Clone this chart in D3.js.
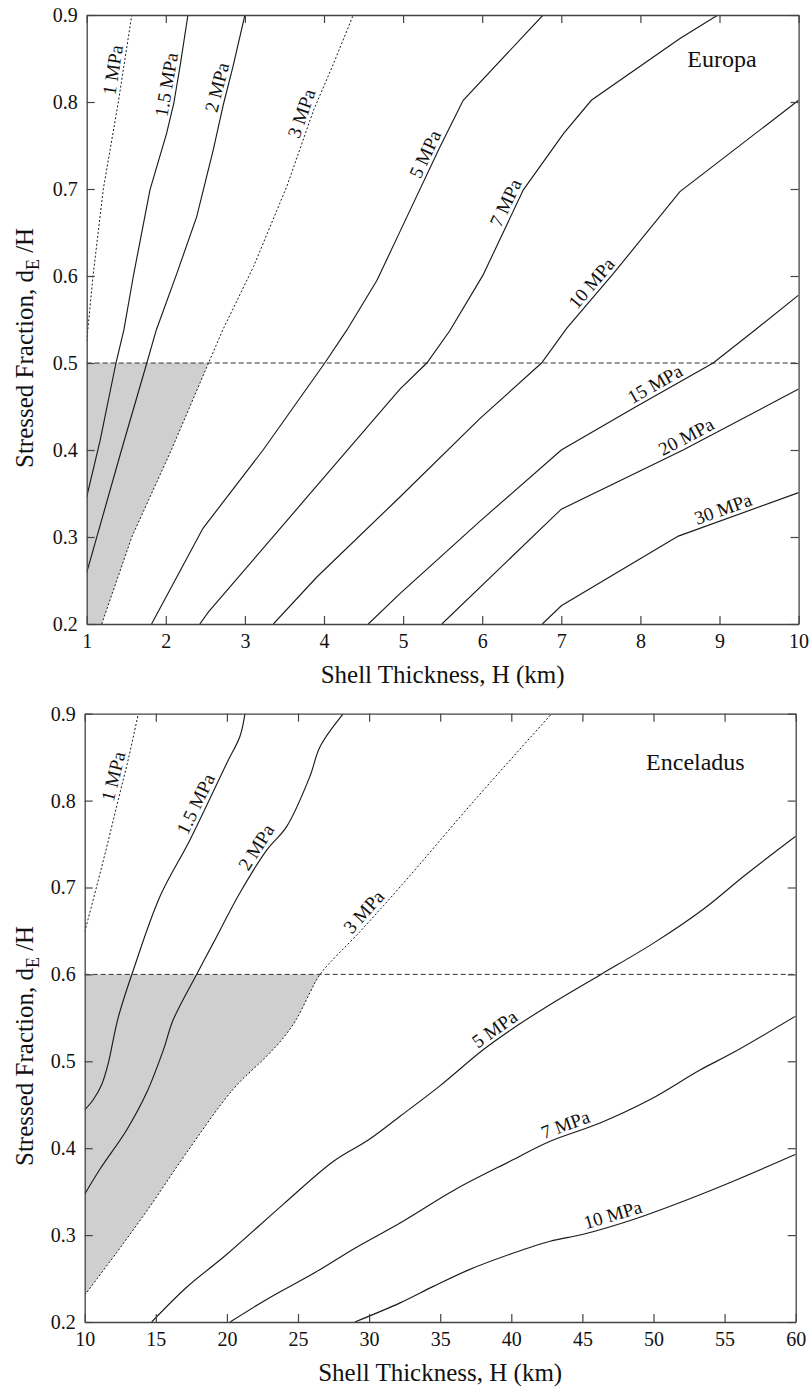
<!DOCTYPE html>
<html><head><meta charset="utf-8">
<script src="https://cdn.jsdelivr.net/npm/d3@7/dist/d3.min.js"></script>
<style>
body{margin:0;background:#fff}
svg{display:block}
text{font-family:"Liberation Serif","Times New Roman",serif;fill:#111}
</style>
</head><body>
<svg id="chart" width="811" height="1389"></svg>
<script>
// ---------------- DATA ----------------
const fracTicks = [0.2,0.3,0.4,0.5,0.6,0.7,0.8,0.9];
const europaTicks = [1,2,3,4,5,6,7,8,9,10];
const enceladusTicks = [10,15,20,25,30,35,40,45,50,55,60];

// Europa contours: [H (km), stressed fraction]
const europa1 = [[1,0.525],[1.08,0.6],[1.21,0.7],[1.40,0.8],[1.57,0.9]];
const europa1p5 = [[1,0.346],[1.17,0.411],[1.37,0.5],[1.47,0.538],[1.59,0.6],[1.80,0.699],[2.01,0.764],[2.10,0.798],[2.18,0.841],[2.28,0.9]];
const europa2 = [[1,0.259],[1.44,0.4],[1.76,0.5],[1.88,0.538],[2.14,0.603],[2.39,0.668],[2.60,0.745],[2.73,0.798],[2.85,0.841],[3.0,0.9]];
const europa3 = [[1.19,0.2],[1.57,0.3],[2.07,0.4],[2.54,0.5],[2.72,0.538],[3.11,0.611],[3.53,0.703],[3.87,0.791],[4.12,0.844],[4.37,0.9]];
const europa5 = [[1.82,0.2],[2.47,0.31],[3.23,0.4],[4.01,0.5],[4.29,0.538],[4.67,0.595],[4.96,0.651],[5.47,0.749],[5.76,0.802],[6.77,0.9]];
const europa7 = [[2.43,0.2],[2.54,0.214],[3.75,0.342],[4.96,0.47],[5.30,0.5],[5.59,0.537],[6.01,0.601],[6.52,0.699],[7.03,0.764],[7.38,0.802],[8.50,0.873],[8.98,0.9]];
const europa10 = [[3.36,0.2],[3.91,0.254],[4.96,0.346],[5.97,0.436],[6.75,0.5],[7.07,0.54],[7.66,0.603],[8.50,0.697],[10,0.802]];
const europa15 = [[4.56,0.2],[4.96,0.235],[5.97,0.318],[7.0,0.4],[7.91,0.448],[8.92,0.5],[9.45,0.538],[10,0.578]];
const europa20 = [[5.49,0.2],[7.0,0.332],[8.54,0.4],[10,0.47]];
const europa30 = [[6.76,0.2],[7.0,0.221],[8.48,0.301],[10,0.351]];

// Enceladus contours
const enceladus1 = [[10,0.649],[10.84,0.701],[11.6,0.75],[12.36,0.801],[13.1,0.85],[13.77,0.9]];
const enceladus1p5 = [[10,0.444],[10.61,0.456],[11.19,0.473],[11.66,0.498],[12.01,0.525],[12.35,0.55],[13.42,0.605],[15.3,0.69],[17.41,0.755],[19.99,0.843],[20.92,0.874],[21.27,0.9]];
const enceladus2 = [[10,0.347],[11.08,0.376],[12.95,0.421],[14.36,0.464],[15.53,0.513],[16.23,0.548],[17.87,0.6],[19.04,0.636],[20.92,0.694],[22.8,0.743],[24.2,0.77],[25.84,0.828],[26.55,0.862],[28.19,0.9]];
const enceladus3 = [[10,0.231],[12.25,0.28],[14.59,0.333],[17.17,0.395],[20.45,0.468],[22.8,0.506],[23.97,0.527],[24.91,0.549],[25.84,0.579],[26.55,0.6],[29.4,0.65],[32.2,0.701],[37.45,0.801],[42.84,0.9]];
const enceladus5 = [[14.71,0.2],[17.17,0.24],[20,0.278],[24,0.336],[27.5,0.385],[30,0.41],[32.2,0.437],[35,0.472],[38,0.513],[40.5,0.542],[43,0.568],[46.3,0.6],[50,0.636],[53.5,0.675],[56.5,0.715],[60,0.759]];
const enceladus7 = [[20.22,0.2],[23,0.228],[26.2,0.257],[29,0.285],[32.18,0.314],[36,0.352],[39.91,0.385],[42.73,0.408],[46.24,0.429],[49.76,0.456],[53.27,0.49],[55.61,0.51],[60,0.552]];
const enceladus10 = [[29,0.2],[32.18,0.222],[34.52,0.241],[37,0.26],[39.91,0.278],[42.73,0.293],[45.06,0.301],[48.58,0.318],[52.1,0.339],[55.61,0.362],[60,0.393]];

// Contour labels: anchor given as stressed fraction (f) or thickness (H) on the line
const europaSeries = [
  {label:"1 MPa",   pts:europa1,   dotted:true,  f:0.835},
  {label:"1.5 MPa", pts:europa1p5, dotted:false, f:0.818},
  {label:"2 MPa",   pts:europa2,   dotted:false, f:0.814},
  {label:"3 MPa",   pts:europa3,   dotted:true,  f:0.783},
  {label:"5 MPa",   pts:europa5,   dotted:false, f:0.735},
  {label:"7 MPa",   pts:europa7,   dotted:false, f:0.679},
  {label:"10 MPa",  pts:europa10,  dotted:false, f:0.584},
  {label:"15 MPa",  pts:europa15,  dotted:false, H:8.25},
  {label:"20 MPa",  pts:europa20,  dotted:false, H:8.64},
  {label:"30 MPa",  pts:europa30,  dotted:false, H:9.09}
];
const enceladusSeries = [
  {label:"1 MPa",   pts:enceladus1,   dotted:true,  f:0.825},
  {label:"1.5 MPa", pts:enceladus1p5, dotted:false, f:0.791},
  {label:"2 MPa",   pts:enceladus2,   dotted:false, f:0.74},
  {label:"3 MPa",   pts:enceladus3,   dotted:true,  f:0.664},
  {label:"5 MPa",   pts:enceladus5,   dotted:false, H:39.25},
  {label:"7 MPa",   pts:enceladus7,   dotted:false, H:44.06},
  {label:"10 MPa",  pts:enceladus10,  dotted:false, H:47.34}
];

const europaThreshold = 0.5;
const enceladusThreshold = 0.6;

// ---------------- DRAW ----------------
const svg = d3.select("#chart");
const INK = "#1b1b1b";
const SERIF = "'Liberation Serif','Times New Roman',serif";

function panel(opts){
  const {id, left, right, top, bottom, xDomain, xTicks, series, threshold, boundary, name, nameDx, nameDy, curve} = opts;
  const x = d3.scaleLinear().domain(xDomain).range([left, right]);
  const y = d3.scaleLinear().domain([0.2, 0.9]).range([bottom, top]);
  const g = svg.append("g");

  g.append("clipPath").attr("id", "clip"+id).append("rect")
    .attr("x", left).attr("y", top).attr("width", right-left).attr("height", bottom-top);

  const plot = g.append("g").attr("clip-path", `url(#clip${id})`);
  const line = d3.line().x(d=>x(d[0])).y(d=>y(d[1])).curve(curve);

  // shaded feasible region: left of the 3 MPa contour, below threshold
  const edge = boundary.filter(d=>d[1] <= threshold + 1e-9);
  const x0 = x(xDomain[0]);
  const cornerY = y(edge[0][0] > xDomain[0] ? 0.2 : edge[0][1]);
  const shadePath = `M${x0},${y(threshold)}L${x0},${cornerY}` + line(edge).replace(/^M/, "L") + "Z";
  plot.append("path").attr("d", shadePath).attr("fill", "#cfcfcf").attr("stroke", "none");

  // threshold line
  plot.append("line").attr("x1", left).attr("x2", right)
    .attr("y1", y(threshold)).attr("y2", y(threshold))
    .attr("stroke", "#333").attr("stroke-width", 1).attr("stroke-dasharray", "5,3");

  // contours
  series.forEach(s=>{
    plot.append("path").attr("d", line(s.pts)).attr("fill", "none")
      .attr("stroke", INK).attr("stroke-width", s.dotted ? 1 : 1.15)
      .attr("stroke-dasharray", s.dotted ? "2,2" : null);
  });

  // labels
  series.forEach(s=>{
    const P = s.pts.map(d=>[x(d[0]), y(d[1])]);
    const key = s.f !== undefined ? 1 : 0;
    const val = s.f !== undefined ? s.f : s.H;
    let i = 0;
    for (; i < s.pts.length-2; i++) if (s.pts[i+1][key] >= val) break;
    const a = s.pts[i], b = s.pts[i+1];
    const t = (val - a[key])/(b[key]-a[key]);
    const px = P[i][0] + t*(P[i+1][0]-P[i][0]);
    const py = P[i][1] + t*(P[i+1][1]-P[i][1]);
    const ang = Math.atan2(P[i+1][1]-P[i][1], P[i+1][0]-P[i][0]) * 180/Math.PI;
    g.append("text").attr("transform", `translate(${px},${py}) rotate(${ang})`)
      .attr("y", -4).attr("text-anchor", "middle").attr("font-size", 19)
      .attr("font-family", SERIF).text(s.label);
  });

  // axes
  const ax = (gen, tr)=> g.append("g").attr("transform", tr).call(gen);
  const styleAxis = sel => {
    sel.attr("font-family", SERIF).attr("font-size", 20);
    sel.selectAll(".domain").attr("stroke", "#444").attr("stroke-width", 1.3);
    sel.selectAll(".tick line").attr("stroke", "#444").attr("stroke-width", 1.2);
    sel.selectAll("text").attr("font-size", 20).attr("font-family", SERIF).attr("fill", "#111");
  };
  styleAxis(ax(d3.axisBottom(x).tickValues(xTicks).tickFormat(d3.format("d")).tickSizeInner(-8).tickSizeOuter(0).tickPadding(10), `translate(0,${bottom})`));
  styleAxis(ax(d3.axisTop(x).tickValues(xTicks).tickFormat("").tickSizeInner(-8).tickSizeOuter(0), `translate(0,${top})`));
  styleAxis(ax(d3.axisLeft(y).tickValues(fracTicks).tickFormat(d3.format(".1f")).tickSizeInner(-8).tickSizeOuter(0).tickPadding(9), `translate(${left},0)`));
  styleAxis(ax(d3.axisRight(y).tickValues(fracTicks).tickFormat("").tickSizeInner(-8).tickSizeOuter(0), `translate(${right},0)`));

  // axis titles
  g.append("text").attr("x", (left+right)/2).attr("y", bottom+59)
    .attr("text-anchor", "middle").attr("font-size", 25).attr("font-family", SERIF).text("Shell Thickness, H (km)");
  const yt = g.append("text").attr("transform", `translate(33,${bottom-156}) rotate(-90)`)
    .attr("text-anchor", "start").attr("font-size", 25).attr("font-family", SERIF);
  yt.append("tspan").text("Stressed Fraction,  d");
  yt.append("tspan").attr("font-size", 18).attr("dy", 6).text("E");
  yt.append("tspan").attr("dy", -6).text(" /H");

  // panel name
  g.append("text").attr("x", right - nameDx).attr("y", top + nameDy)
    .attr("text-anchor", "end").attr("font-size", 24).attr("font-family", SERIF).text(name);
}

panel({id:"eu", left:86.7, right:798.6, top:15, bottom:624,
  xDomain:[1,10], xTicks:europaTicks, series:europaSeries, threshold:europaThreshold,
  boundary:europa3, name:"Europa", nameDx:42, nameDy:52, curve:d3.curveLinear});

panel({id:"en", left:84.7, right:795.7, top:713.7, bottom:1322,
  xDomain:[10,60], xTicks:enceladusTicks, series:enceladusSeries, threshold:enceladusThreshold,
  boundary:enceladus3, name:"Enceladus", nameDx:51, nameDy:56, curve:d3.curveCatmullRom.alpha(0.5)});
</script>
</body></html>
